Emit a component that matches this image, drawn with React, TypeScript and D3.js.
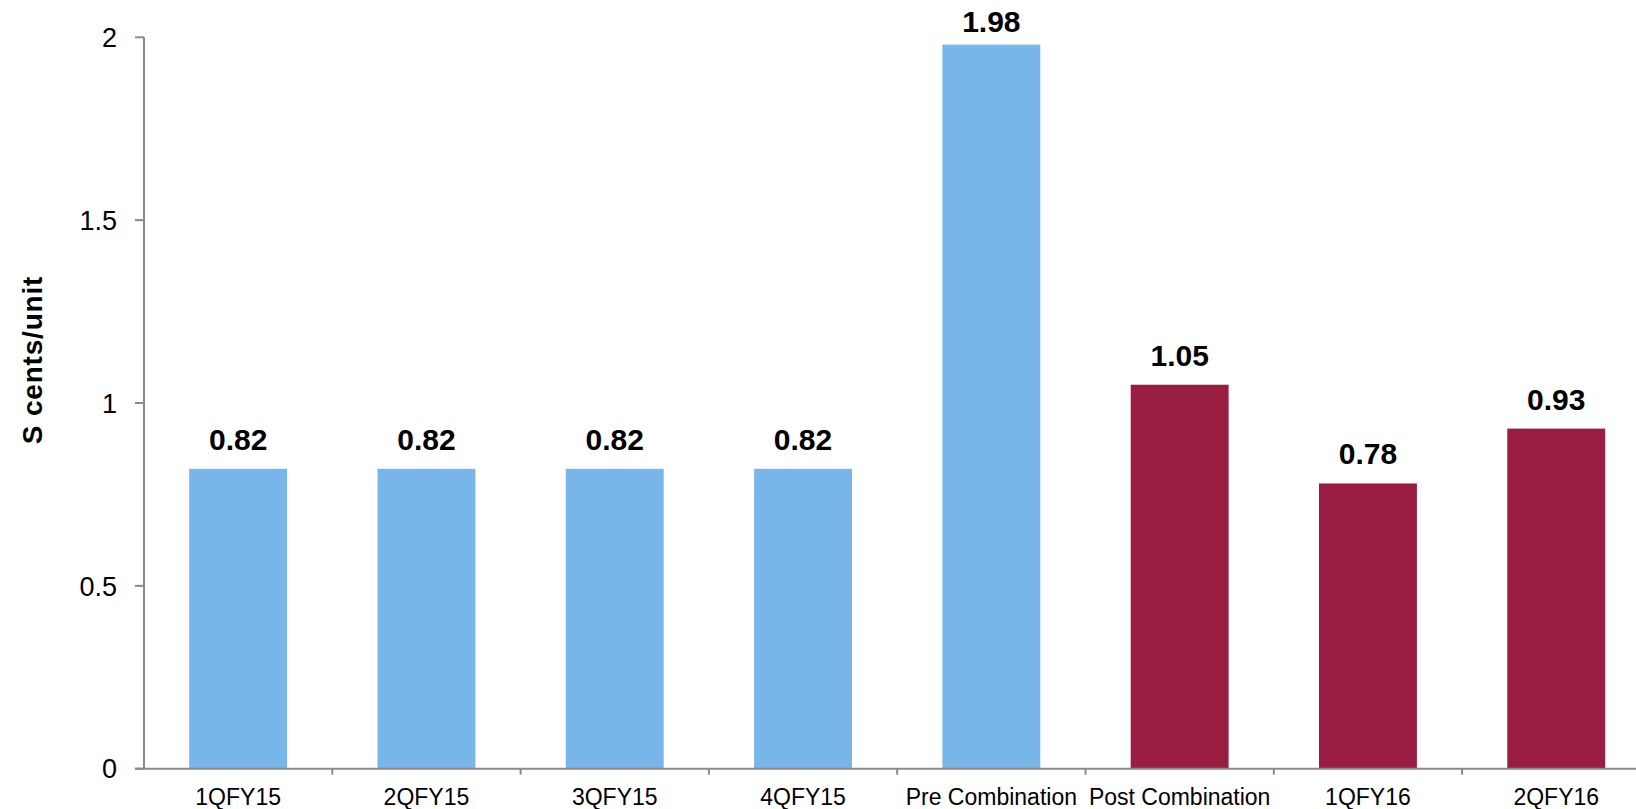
import React from "react";
import * as d3 from "d3";

const categories = ["1QFY15", "2QFY15", "3QFY15", "4QFY15", "Pre Combination", "Post Combination", "1QFY16", "2QFY16"];
const values = [0.82, 0.82, 0.82, 0.82, 1.98, 1.05, 0.78, 0.93];
const groups = ["pre", "pre", "pre", "pre", "pre", "post", "post", "post"];
const yTicks = [0, 0.5, 1, 1.5, 2];
const yTickLabels = ["0", "0.5", "1", "1.5", "2"];
const yTitle = "S cents/unit";

const W = 1636;
const H = 809;
const axisX = 144;
const step = 188.3;
const colors: Record<string, string> = { pre: "#78b5e9", post: "#991c42" };
const axisColor = "#8a8a8a";
const font = "Liberation Sans, Arial, Helvetica, sans-serif";

export default function App() {
  const x = d3
    .scaleBand<string>()
    .domain(categories)
    .range([axisX, axisX + step * categories.length])
    .paddingInner(0.48)
    .paddingOuter(0.24);
  const y = d3.scaleLinear().domain([0, 2]).range([768.7, 37.3]);
  const y0 = y(0);

  return (
    <svg
      width={W}
      height={H}
      style={{ position: "absolute", left: 0, top: 0, display: "block" }}
      fontFamily={font}
    >
      <rect width={W} height={H} fill="#fff" />
      {categories.map((c, i) => (
        <rect
          key={c}
          x={x(c)}
          y={y(values[i])}
          width={x.bandwidth()}
          height={y0 - y(values[i])}
          fill={colors[groups[i]]}
        />
      ))}
      {/* y axis */}
      <line x1={axisX} x2={axisX} y1={y(2)} y2={y0} stroke={axisColor} strokeWidth={2} />
      {yTicks.map((t, i) => (
        <g key={t}>
          <line x1={axisX - 9} x2={axisX} y1={y(t)} y2={y(t)} stroke={axisColor} strokeWidth={2} />
          <text x={117} y={y(t)} dy="0.36em" textAnchor="end" fontSize={27} fill="#000">
            {yTickLabels[i]}
          </text>
        </g>
      ))}
      {/* x axis */}
      <line x1={axisX - 9} x2={W} y1={y0} y2={y0} stroke={axisColor} strokeWidth={2} />
      {categories.map((c, i) =>
        i === 0 ? null : (
          <line
            key={"t" + c}
            x1={(x(c) as number) - x.step() * 0.24}
            x2={(x(c) as number) - x.step() * 0.24}
            y1={y0}
            y2={y0 + 6}
            stroke={axisColor}
            strokeWidth={2}
          />
        )
      )}
      {categories.map((c) => (
        <text
          key={"l" + c}
          x={(x(c) as number) + x.bandwidth() / 2}
          y={805}
          textAnchor="middle"
          fontSize={23}
          fill="#000"
        >
          {c}
        </text>
      ))}
      {categories.map((c, i) => (
        <text
          key={"v" + c}
          x={(x(c) as number) + x.bandwidth() / 2}
          y={Math.max(y(values[i]) - 19, 32)}
          textAnchor="middle"
          fontSize={30}
          fontWeight="bold"
          fill="#000"
        >
          {values[i].toFixed(2)}
        </text>
      ))}
      <text
        transform={`translate(42, 360) rotate(-90)`}
        textAnchor="middle"
        fontSize={28}
        fontWeight="bold"
        letterSpacing={0.8}
        fill="#000"
      >
        {yTitle}
      </text>
    </svg>
  );
}
